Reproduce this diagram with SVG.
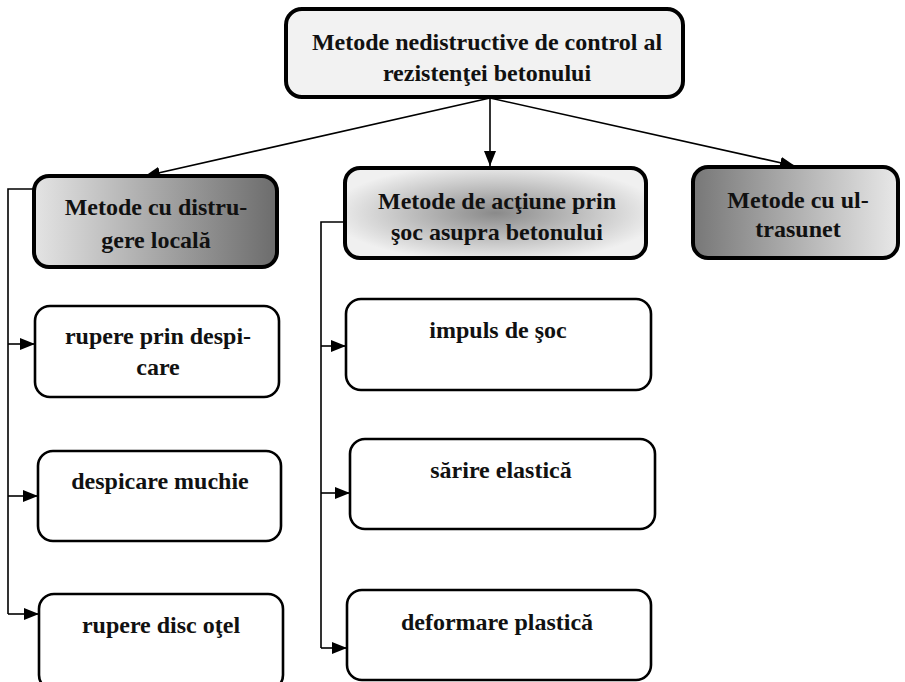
<svg xmlns="http://www.w3.org/2000/svg" width="905" height="682" viewBox="0 0 905 682">
<defs>
<style>
text{font-family:'Liberation Serif','Times New Roman',Tinos,'DejaVu Serif',serif;font-weight:700;font-size:24px;fill:#111;text-anchor:middle}
.main{stroke:#000;stroke-width:4}
.child{fill:#fff;stroke:#000;stroke-width:2.6}
.con{fill:none;stroke:#000;stroke-width:1.6}
</style>
<linearGradient id="gL" x1="0" y1="0" x2="1" y2="0"><stop offset="0" stop-color="#e4e4e4"/><stop offset="1" stop-color="#6c6c6c"/></linearGradient>
<radialGradient id="gM" cx="0.5" cy="0.5" r="0.55"><stop offset="0" stop-color="#8a8a8a"/><stop offset="1" stop-color="#f0f0f0"/></radialGradient>
<linearGradient id="gR" x1="0" y1="0" x2="1" y2="0"><stop offset="0" stop-color="#777"/><stop offset="1" stop-color="#e8e8e8"/></linearGradient>
<marker id="ah" markerUnits="userSpaceOnUse" markerWidth="15" markerHeight="12" refX="15" refY="6" orient="auto"><path d="M0,0 L15,6 L0,12 z" fill="#000"/></marker>
</defs>
<g id="connectors">
<line class="con" x1="490" y1="98" x2="145" y2="176" marker-end="url(#ah)"/>
<line class="con" x1="490" y1="98" x2="490" y2="166" marker-end="url(#ah)"/>
<line class="con" x1="490" y1="98" x2="795" y2="166" marker-end="url(#ah)"/>
<path class="con" d="M34,189 H8 V614"/>
<line class="con" x1="8" y1="344" x2="35" y2="344" marker-end="url(#ah)"/>
<line class="con" x1="8" y1="496" x2="38" y2="496" marker-end="url(#ah)"/>
<line class="con" x1="8" y1="614" x2="39" y2="614" marker-end="url(#ah)"/>
<path class="con" d="M345,222 H321 V648"/>
<line class="con" x1="321" y1="346" x2="346" y2="346" marker-end="url(#ah)"/>
<line class="con" x1="321" y1="493" x2="350" y2="493" marker-end="url(#ah)"/>
<line class="con" x1="321" y1="648" x2="347" y2="648" marker-end="url(#ah)"/>
</g>
<g id="root">
<rect class="main" x="286" y="9" width="397" height="88" rx="16" fill="#f2f2f2"/>
<text x="487" y="50">Metode nedistructive de control al</text>
<text x="487" y="81">rezistenţei betonului</text>
</g>
<g id="local">
<rect class="main" x="34" y="176" width="243" height="91" rx="15" fill="url(#gL)"/>
<text x="156" y="215">Metode cu distru-</text>
<text x="156" y="248">gere locală</text>
</g>
<g id="soc">
<rect class="main" x="345" y="168" width="301" height="90" rx="15" fill="url(#gM)"/>
<text x="497" y="209">Metode de acţiune prin</text>
<text x="497" y="240">şoc asupra betonului</text>
</g>
<g id="ultra">
<rect class="main" x="693" y="167" width="205" height="91" rx="15" fill="url(#gR)"/>
<text x="798" y="208">Metode cu ul-</text>
<text x="798" y="237">trasunet</text>
</g>
<g id="rupere-despicare">
<rect class="child" x="35" y="306" width="244" height="91" rx="15"/>
<text x="158" y="344">rupere prin despi-</text>
<text x="158" y="375">care</text>
</g>
<g id="despicare-muchie">
<rect class="child" x="38" y="451" width="243" height="90" rx="15"/>
<text x="160" y="489">despicare muchie</text>
</g>
<g id="rupere-disc">
<rect class="child" x="39" y="594" width="244" height="96" rx="15"/>
<text x="161" y="633">rupere disc oţel</text>
</g>
<g id="impuls">
<rect class="child" x="346" y="299" width="305" height="91" rx="15"/>
<text x="498" y="338">impuls de şoc</text>
</g>
<g id="sarire">
<rect class="child" x="350" y="439" width="305" height="90" rx="15"/>
<text x="501" y="478">sărire elastică</text>
</g>
<g id="deformare">
<rect class="child" x="347" y="590" width="304" height="90" rx="15"/>
<text x="497" y="630">deformare plastică</text>
</g>
</svg>
